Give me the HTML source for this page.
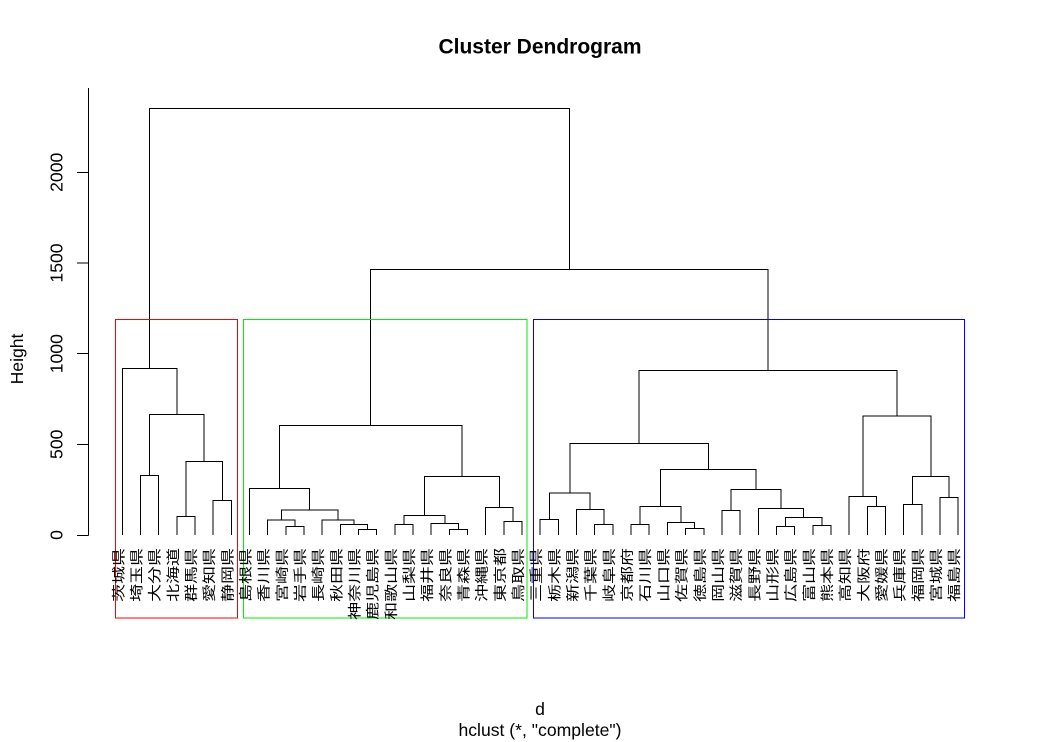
<!DOCTYPE html>
<html>
<head>
<meta charset="utf-8">
<style>
html,body{margin:0;padding:0;background:#fff;}
svg{display:block;}
text{font-family:"Liberation Sans","Noto Sans CJK JP",sans-serif;fill:#000;}
.lb{font-size:18px;}
</style>
</head>
<body>
<svg width="1037" height="742" viewBox="0 0 1037 742" xmlns="http://www.w3.org/2000/svg">
<rect x="0" y="0" width="1037" height="742" fill="#fff"/>
<text x="540" y="53.3" text-anchor="middle" font-size="21" font-weight="bold">Cluster Dendrogram</text>

<g stroke="#000" stroke-width="1" fill="none" shape-rendering="crispEdges">
<path d="M88.5 88 V535.5"/>
<path d="M77 535.5 H88.5 M77 444.3 H88.5 M77 353.7 H88.5 M77 263 H88.5 M77 172.3 H88.5"/>
</g>
<g font-size="17.6">
<text transform="translate(62.5,535) rotate(-90)" text-anchor="middle">0</text>
<text transform="translate(62.5,444.3) rotate(-90)" text-anchor="middle">500</text>
<text transform="translate(62.5,353.7) rotate(-90)" text-anchor="middle">1000</text>
<text transform="translate(62.5,263) rotate(-90)" text-anchor="middle">1500</text>
<text transform="translate(62.5,172.3) rotate(-90)" text-anchor="middle">2000</text>
<text transform="translate(23,359) rotate(-90)" text-anchor="middle">Height</text>
<text x="540" y="715" text-anchor="middle">d</text>
<text x="540" y="736" text-anchor="middle">hclust (*, "complete")</text>
</g>

<g stroke="#000" stroke-width="1" fill="none" shape-rendering="crispEdges">
<!-- red cluster -->
<path d="M176.8 535 V516.3 H195.0 V535"/>
<path d="M213.2 535 V500.3 H231.3 V535"/>
<path d="M185.9 516.3 V461.3 H222.25 V500.3"/>
<path d="M140.5 535 V475.3 H158.6 V535"/>
<path d="M149.55 475.3 V414.3 H204.1 V461.3"/>
<path d="M122.3 535 V368.3 H176.8 V414.3"/>
<!-- green cluster -->
<path d="M285.8 535 V526.3 H304.0 V535"/>
<path d="M267.7 535 V520 H294.9 V526.3"/>
<path d="M358.5 535 V529.3 H376.7 V535"/>
<path d="M340.3 535 V524.3 H367.6 V529.3"/>
<path d="M322.2 535 V520 H353.95 V524.3"/>
<path d="M281.3 520 V510 H338.1 V520"/>
<path d="M249.5 535 V488.3 H309.7 V510"/>
<path d="M394.9 535 V524.3 H413.0 V535"/>
<path d="M449.4 535 V529.3 H467.5 V535"/>
<path d="M431.2 535 V523.3 H458.45 V529.3"/>
<path d="M403.95 524.3 V515.3 H444.8 V523.3"/>
<path d="M503.9 535 V521.3 H522.0 V535"/>
<path d="M485.7 535 V507.3 H512.95 V521.3"/>
<path d="M424.4 515.3 V476.3 H499.3 V507.3"/>
<path d="M279.6 488.3 V425.3 H461.85 V476.3"/>
<!-- blue cluster -->
<path d="M540.2 535 V519.3 H558.4 V535"/>
<path d="M594.7 535 V524.3 H612.9 V535"/>
<path d="M576.6 535 V509.3 H603.8 V524.3"/>
<path d="M549.3 519.3 V493 H590.2 V509.3"/>
<path d="M631.1 535 V524.3 H649.2 V535"/>
<path d="M685.6 535 V528.3 H703.8 V535"/>
<path d="M667.4 535 V522.3 H694.7 V528.3"/>
<path d="M640.15 524.3 V506.3 H681.05 V522.3"/>
<path d="M721.9 535 V510.3 H740.1 V535"/>
<path d="M776.4 535 V526.3 H794.6 V535"/>
<path d="M812.8 535 V525.3 H830.9 V535"/>
<path d="M785.5 526.3 V517.3 H821.85 V525.3"/>
<path d="M758.3 535 V508.3 H803.7 V517.3"/>
<path d="M731.0 510.3 V489.3 H781.0 V508.3"/>
<path d="M660.6 506.3 V469.3 H756.0 V489.3"/>
<path d="M569.75 493 V443.3 H708.3 V469.3"/>
<path d="M867.3 535 V506.7 H885.5 V535"/>
<path d="M849.1 535 V496.7 H876.4 V506.7"/>
<path d="M903.6 535 V504.3 H921.8 V535"/>
<path d="M940.0 535 V497.3 H958.1 V535"/>
<path d="M912.7 504.3 V476.7 H949.05 V497.3"/>
<path d="M862.75 496.7 V416 H930.9 V476.7"/>
<path d="M639.0 443.3 V370.3 H896.8 V416"/>
<!-- top -->
<path d="M370.7 425.3 V269.3 H767.9 V370.3"/>
<path d="M149.55 368.3 V108.7 H569.3 V269.3"/>
</g>

<g fill="none" stroke-width="1" shape-rendering="crispEdges">
<rect x="115.5" y="319.5" width="122" height="298.5" stroke="#ff0000"/>
<rect x="243.5" y="319.5" width="283.5" height="298.5" stroke="#00ee00"/>
<rect x="533.5" y="319.5" width="430.8" height="298.5" stroke="#0000ff"/>
</g>

<g class="lb" text-anchor="end">
<text transform="translate(123.3,548) rotate(-90) scale(1,0.75)">茨城県</text>
<text transform="translate(141.5,548) rotate(-90) scale(1,0.75)">埼玉県</text>
<text transform="translate(159.6,548) rotate(-90) scale(1,0.75)">大分県</text>
<text transform="translate(177.8,548) rotate(-90) scale(1,0.75)">北海道</text>
<text transform="translate(196.0,548) rotate(-90) scale(1,0.75)">群馬県</text>
<text transform="translate(214.2,548) rotate(-90) scale(1,0.75)">愛知県</text>
<text transform="translate(232.3,548) rotate(-90) scale(1,0.75)">静岡県</text>
<text transform="translate(250.5,548) rotate(-90) scale(1,0.75)">島根県</text>
<text transform="translate(268.7,548) rotate(-90) scale(1,0.75)">香川県</text>
<text transform="translate(286.8,548) rotate(-90) scale(1,0.75)">宮崎県</text>
<text transform="translate(305.0,548) rotate(-90) scale(1,0.75)">岩手県</text>
<text transform="translate(323.2,548) rotate(-90) scale(1,0.75)">長崎県</text>
<text transform="translate(341.3,548) rotate(-90) scale(1,0.75)">秋田県</text>
<text transform="translate(359.5,548) rotate(-90) scale(1,0.75)">神奈川県</text>
<text transform="translate(377.7,548) rotate(-90) scale(1,0.75)">鹿児島県</text>
<text transform="translate(395.9,548) rotate(-90) scale(1,0.75)">和歌山県</text>
<text transform="translate(414.0,548) rotate(-90) scale(1,0.75)">山梨県</text>
<text transform="translate(432.2,548) rotate(-90) scale(1,0.75)">福井県</text>
<text transform="translate(450.4,548) rotate(-90) scale(1,0.75)">奈良県</text>
<text transform="translate(468.5,548) rotate(-90) scale(1,0.75)">青森県</text>
<text transform="translate(486.7,548) rotate(-90) scale(1,0.75)">沖縄県</text>
<text transform="translate(504.9,548) rotate(-90) scale(1,0.75)">東京都</text>
<text transform="translate(523.0,548) rotate(-90) scale(1,0.75)">鳥取県</text>
<text transform="translate(541.2,548) rotate(-90) scale(1,0.75)">三重県</text>
<text transform="translate(559.4,548) rotate(-90) scale(1,0.75)">栃木県</text>
<text transform="translate(577.6,548) rotate(-90) scale(1,0.75)">新潟県</text>
<text transform="translate(595.7,548) rotate(-90) scale(1,0.75)">千葉県</text>
<text transform="translate(613.9,548) rotate(-90) scale(1,0.75)">岐阜県</text>
<text transform="translate(632.1,548) rotate(-90) scale(1,0.75)">京都府</text>
<text transform="translate(650.2,548) rotate(-90) scale(1,0.75)">石川県</text>
<text transform="translate(668.4,548) rotate(-90) scale(1,0.75)">山口県</text>
<text transform="translate(686.6,548) rotate(-90) scale(1,0.75)">佐賀県</text>
<text transform="translate(704.8,548) rotate(-90) scale(1,0.75)">徳島県</text>
<text transform="translate(722.9,548) rotate(-90) scale(1,0.75)">岡山県</text>
<text transform="translate(741.1,548) rotate(-90) scale(1,0.75)">滋賀県</text>
<text transform="translate(759.3,548) rotate(-90) scale(1,0.75)">長野県</text>
<text transform="translate(777.4,548) rotate(-90) scale(1,0.75)">山形県</text>
<text transform="translate(795.6,548) rotate(-90) scale(1,0.75)">広島県</text>
<text transform="translate(813.8,548) rotate(-90) scale(1,0.75)">富山県</text>
<text transform="translate(831.9,548) rotate(-90) scale(1,0.75)">熊本県</text>
<text transform="translate(850.1,548) rotate(-90) scale(1,0.75)">高知県</text>
<text transform="translate(868.3,548) rotate(-90) scale(1,0.75)">大阪府</text>
<text transform="translate(886.5,548) rotate(-90) scale(1,0.75)">愛媛県</text>
<text transform="translate(904.6,548) rotate(-90) scale(1,0.75)">兵庫県</text>
<text transform="translate(922.8,548) rotate(-90) scale(1,0.75)">福岡県</text>
<text transform="translate(941.0,548) rotate(-90) scale(1,0.75)">宮城県</text>
<text transform="translate(959.1,548) rotate(-90) scale(1,0.75)">福島県</text>
</g>
</svg>
</body>
</html>
